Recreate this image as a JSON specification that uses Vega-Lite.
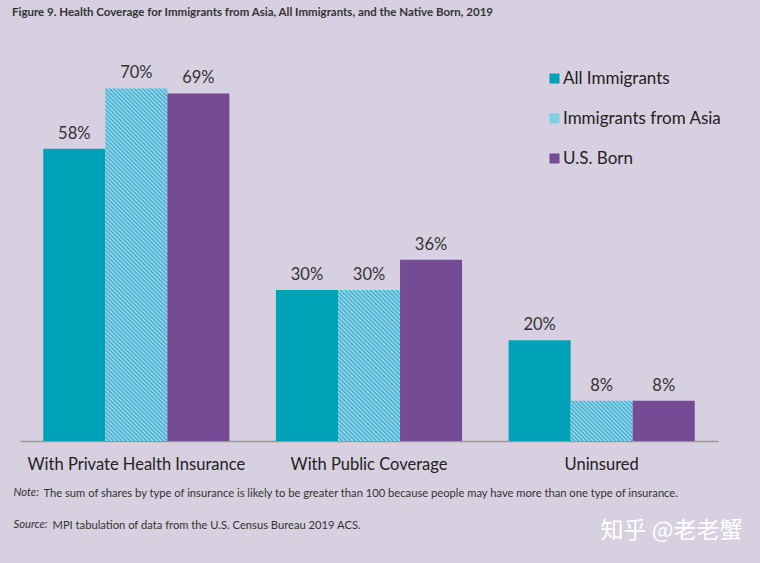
{
"$schema": "https://vega.github.io/schema/vega-lite/v6.json",
"width": 698,
"height": 403,
"autosize": {"type": "none"},
"padding": {"left": 20, "top": 38, "right": 42, "bottom": 122},
"background": "#d7d0e0",
"title": {"text": "Figure 9. Health Coverage for Immigrants from Asia, All Immigrants, and the Native Born, 2019", "anchor": "start", "frame": "group", "dx": -8, "offset": 20, "fontSize": 11.5, "fontWeight": "bold", "font": "Lato", "color": "#333333"},
"data": {"values": [
{"cat": "With Private Health Insurance", "group": "All Immigrants", "value": 58, "label": "58%"},
{"cat": "With Private Health Insurance", "group": "Immigrants from Asia", "value": 70, "label": "70%"},
{"cat": "With Private Health Insurance", "group": "U.S. Born", "value": 69, "label": "69%"},
{"cat": "With Public Coverage", "group": "All Immigrants", "value": 30, "label": "30%"},
{"cat": "With Public Coverage", "group": "Immigrants from Asia", "value": 30, "label": "30%"},
{"cat": "With Public Coverage", "group": "U.S. Born", "value": 36, "label": "36%"},
{"cat": "Uninsured", "group": "All Immigrants", "value": 20, "label": "20%"},
{"cat": "Uninsured", "group": "Immigrants from Asia", "value": 8, "label": "8%"},
{"cat": "Uninsured", "group": "U.S. Born", "value": 8, "label": "8%"}
]},
"layer": [
{
"mark": {"type": "bar"},
"encoding": {
"x": {"field": "cat", "type": "nominal", "sort": ["With Private Health Insurance", "With Public Coverage", "Uninsured"], "scale": {"paddingInner": 0.2, "paddingOuter": 0.1},
"axis": {"orient": "bottom", "title": "The sum of shares by type of insurance is likely to be greater than 100 because people may have more than one type of insurance.", "titleX": 23, "titleY": 46, "titleAlign": "left", "titleBaseline": "top", "titleFontSize": 11.2, "titleFontWeight": "normal", "titleColor": "#333333", "titleFont": "Lato", "labelAngle": 0, "labelFontSize": 16.5, "labelFont": "Lato", "labelColor": "#222222", "labelPadding": 15, "labelLimit": 400, "ticks": false, "domainColor": "#999999", "domainWidth": 1.5}},
"xOffset": {"field": "group", "type": "nominal", "sort": ["All Immigrants", "Immigrants from Asia", "U.S. Born"], "scale": {"paddingInner": 0, "paddingOuter": 0}},
"y": {"field": "value", "type": "quantitative", "scale": {"domain": [0, 80]},
"axis": {"orient": "left", "labels": false, "ticks": false, "domain": false, "grid": false, "title": ["Note:", "Source:"], "titleAngle": 0, "titleX": -7, "titleY": 448, "titleAlign": "left", "titleBaseline": "top", "titleFontSize": 11.2, "titleFontStyle": "italic", "titleFontWeight": "normal", "titleLineHeight": 32, "titleColor": "#333333", "titleFont": "Lato"}},
"fill": {
"field": "group", "type": "nominal", "sort": ["All Immigrants", "Immigrants from Asia", "U.S. Born"],
"scale": {"domain": ["All Immigrants", "Immigrants from Asia", "U.S. Born"], "range": ["#00a2b8", "#7ccfde", "#764b96"]},
"legend": {"orient": "none", "legendX": 526, "legendY": 32, "title": null, "symbolType": "square", "symbolSize": 100, "symbolStrokeWidth": 0, "labelFontSize": 17, "labelFont": "Lato", "labelColor": "#222222", "rowPadding": 22, "labelOffset": 0, "padding": 0},
"condition": [
{"test": "datum.group === 'Immigrants from Asia' && datum.cat === 'With Private Health Insurance'", "value": {"gradient": "linear", "x1": 0, "y1": 1, "x2": 0.2006, "y2": -0.1406, "stops": [
{"offset":0,"color":"#3ac"},{"offset":0.005,"color":"#ade"},{"offset":0.01,"color":"#3ac"},{"offset":0.015,"color":"#ade"},{"offset":0.02,"color":"#3ac"},{"offset":0.025,"color":"#ade"},{"offset":0.03,"color":"#3ac"},{"offset":0.035,"color":"#ade"},{"offset":0.04,"color":"#3ac"},{"offset":0.045,"color":"#ade"},
{"offset":0.05,"color":"#3ac"},{"offset":0.055,"color":"#ade"},{"offset":0.06,"color":"#3ac"},{"offset":0.065,"color":"#ade"},{"offset":0.07,"color":"#3ac"},{"offset":0.075,"color":"#ade"},{"offset":0.08,"color":"#3ac"},{"offset":0.085,"color":"#ade"},{"offset":0.09,"color":"#3ac"},{"offset":0.095,"color":"#ade"},
{"offset":0.1,"color":"#3ac"},{"offset":0.105,"color":"#ade"},{"offset":0.11,"color":"#3ac"},{"offset":0.115,"color":"#ade"},{"offset":0.12,"color":"#3ac"},{"offset":0.125,"color":"#ade"},{"offset":0.13,"color":"#3ac"},{"offset":0.135,"color":"#ade"},{"offset":0.14,"color":"#3ac"},{"offset":0.145,"color":"#ade"},
{"offset":0.15,"color":"#3ac"},{"offset":0.155,"color":"#ade"},{"offset":0.16,"color":"#3ac"},{"offset":0.165,"color":"#ade"},{"offset":0.17,"color":"#3ac"},{"offset":0.175,"color":"#ade"},{"offset":0.18,"color":"#3ac"},{"offset":0.185,"color":"#ade"},{"offset":0.19,"color":"#3ac"},{"offset":0.195,"color":"#ade"},
{"offset":0.2,"color":"#3ac"},{"offset":0.205,"color":"#ade"},{"offset":0.21,"color":"#3ac"},{"offset":0.215,"color":"#ade"},{"offset":0.22,"color":"#3ac"},{"offset":0.225,"color":"#ade"},{"offset":0.23,"color":"#3ac"},{"offset":0.235,"color":"#ade"},{"offset":0.24,"color":"#3ac"},{"offset":0.245,"color":"#ade"},
{"offset":0.25,"color":"#3ac"},{"offset":0.255,"color":"#ade"},{"offset":0.26,"color":"#3ac"},{"offset":0.265,"color":"#ade"},{"offset":0.27,"color":"#3ac"},{"offset":0.275,"color":"#ade"},{"offset":0.28,"color":"#3ac"},{"offset":0.285,"color":"#ade"},{"offset":0.29,"color":"#3ac"},{"offset":0.295,"color":"#ade"},
{"offset":0.3,"color":"#3ac"},{"offset":0.305,"color":"#ade"},{"offset":0.31,"color":"#3ac"},{"offset":0.315,"color":"#ade"},{"offset":0.32,"color":"#3ac"},{"offset":0.325,"color":"#ade"},{"offset":0.33,"color":"#3ac"},{"offset":0.335,"color":"#ade"},{"offset":0.34,"color":"#3ac"},{"offset":0.345,"color":"#ade"},
{"offset":0.35,"color":"#3ac"},{"offset":0.355,"color":"#ade"},{"offset":0.36,"color":"#3ac"},{"offset":0.365,"color":"#ade"},{"offset":0.37,"color":"#3ac"},{"offset":0.375,"color":"#ade"},{"offset":0.38,"color":"#3ac"},{"offset":0.385,"color":"#ade"},{"offset":0.39,"color":"#3ac"},{"offset":0.395,"color":"#ade"},
{"offset":0.4,"color":"#3ac"},{"offset":0.405,"color":"#ade"},{"offset":0.41,"color":"#3ac"},{"offset":0.415,"color":"#ade"},{"offset":0.42,"color":"#3ac"},{"offset":0.425,"color":"#ade"},{"offset":0.43,"color":"#3ac"},{"offset":0.435,"color":"#ade"},{"offset":0.44,"color":"#3ac"},{"offset":0.445,"color":"#ade"},
{"offset":0.45,"color":"#3ac"},{"offset":0.455,"color":"#ade"},{"offset":0.46,"color":"#3ac"},{"offset":0.465,"color":"#ade"},{"offset":0.47,"color":"#3ac"},{"offset":0.475,"color":"#ade"},{"offset":0.48,"color":"#3ac"},{"offset":0.485,"color":"#ade"},{"offset":0.49,"color":"#3ac"},{"offset":0.495,"color":"#ade"},
{"offset":0.5,"color":"#3ac"},{"offset":0.505,"color":"#ade"},{"offset":0.51,"color":"#3ac"},{"offset":0.515,"color":"#ade"},{"offset":0.52,"color":"#3ac"},{"offset":0.525,"color":"#ade"},{"offset":0.53,"color":"#3ac"},{"offset":0.535,"color":"#ade"},{"offset":0.54,"color":"#3ac"},{"offset":0.545,"color":"#ade"},
{"offset":0.55,"color":"#3ac"},{"offset":0.555,"color":"#ade"},{"offset":0.56,"color":"#3ac"},{"offset":0.565,"color":"#ade"},{"offset":0.57,"color":"#3ac"},{"offset":0.575,"color":"#ade"},{"offset":0.58,"color":"#3ac"},{"offset":0.585,"color":"#ade"},{"offset":0.59,"color":"#3ac"},{"offset":0.595,"color":"#ade"},
{"offset":0.6,"color":"#3ac"},{"offset":0.605,"color":"#ade"},{"offset":0.61,"color":"#3ac"},{"offset":0.615,"color":"#ade"},{"offset":0.62,"color":"#3ac"},{"offset":0.625,"color":"#ade"},{"offset":0.63,"color":"#3ac"},{"offset":0.635,"color":"#ade"},{"offset":0.64,"color":"#3ac"},{"offset":0.645,"color":"#ade"},
{"offset":0.65,"color":"#3ac"},{"offset":0.655,"color":"#ade"},{"offset":0.66,"color":"#3ac"},{"offset":0.665,"color":"#ade"},{"offset":0.67,"color":"#3ac"},{"offset":0.675,"color":"#ade"},{"offset":0.68,"color":"#3ac"},{"offset":0.685,"color":"#ade"},{"offset":0.69,"color":"#3ac"},{"offset":0.695,"color":"#ade"},
{"offset":0.7,"color":"#3ac"},{"offset":0.705,"color":"#ade"},{"offset":0.71,"color":"#3ac"},{"offset":0.715,"color":"#ade"},{"offset":0.72,"color":"#3ac"},{"offset":0.725,"color":"#ade"},{"offset":0.73,"color":"#3ac"},{"offset":0.735,"color":"#ade"},{"offset":0.74,"color":"#3ac"},{"offset":0.745,"color":"#ade"},
{"offset":0.75,"color":"#3ac"},{"offset":0.755,"color":"#ade"},{"offset":0.76,"color":"#3ac"},{"offset":0.765,"color":"#ade"},{"offset":0.77,"color":"#3ac"},{"offset":0.775,"color":"#ade"},{"offset":0.78,"color":"#3ac"},{"offset":0.785,"color":"#ade"},{"offset":0.79,"color":"#3ac"},{"offset":0.795,"color":"#ade"},
{"offset":0.8,"color":"#3ac"},{"offset":0.805,"color":"#ade"},{"offset":0.81,"color":"#3ac"},{"offset":0.815,"color":"#ade"},{"offset":0.82,"color":"#3ac"},{"offset":0.825,"color":"#ade"},{"offset":0.83,"color":"#3ac"},{"offset":0.835,"color":"#ade"},{"offset":0.84,"color":"#3ac"},{"offset":0.845,"color":"#ade"},
{"offset":0.85,"color":"#3ac"},{"offset":0.855,"color":"#ade"},{"offset":0.86,"color":"#3ac"},{"offset":0.865,"color":"#ade"},{"offset":0.87,"color":"#3ac"},{"offset":0.875,"color":"#ade"},{"offset":0.88,"color":"#3ac"},{"offset":0.885,"color":"#ade"},{"offset":0.89,"color":"#3ac"},{"offset":0.895,"color":"#ade"},
{"offset":0.9,"color":"#3ac"},{"offset":0.905,"color":"#ade"},{"offset":0.91,"color":"#3ac"},{"offset":0.915,"color":"#ade"},{"offset":0.92,"color":"#3ac"},{"offset":0.925,"color":"#ade"},{"offset":0.93,"color":"#3ac"},{"offset":0.935,"color":"#ade"},{"offset":0.94,"color":"#3ac"},{"offset":0.945,"color":"#ade"},
{"offset":0.95,"color":"#3ac"},{"offset":0.955,"color":"#ade"},{"offset":0.96,"color":"#3ac"},{"offset":0.965,"color":"#ade"},{"offset":0.97,"color":"#3ac"},{"offset":0.975,"color":"#ade"},{"offset":0.98,"color":"#3ac"},{"offset":0.985,"color":"#ade"},{"offset":0.99,"color":"#3ac"},{"offset":0.995,"color":"#ade"},
{"offset":1,"color":"#3ac"}]}},
{"test": "datum.group === 'Immigrants from Asia' && datum.cat === 'With Public Coverage'", "value": {"gradient": "linear", "x1": 0, "y1": 1, "x2": 0.4953, "y2": -0.2071, "stops": [
{"offset":0,"color":"#3ac"},{"offset":0.01,"color":"#ade"},{"offset":0.02,"color":"#3ac"},{"offset":0.03,"color":"#ade"},{"offset":0.04,"color":"#3ac"},{"offset":0.05,"color":"#ade"},{"offset":0.06,"color":"#3ac"},{"offset":0.07,"color":"#ade"},{"offset":0.08,"color":"#3ac"},{"offset":0.09,"color":"#ade"},
{"offset":0.1,"color":"#3ac"},{"offset":0.11,"color":"#ade"},{"offset":0.12,"color":"#3ac"},{"offset":0.13,"color":"#ade"},{"offset":0.14,"color":"#3ac"},{"offset":0.15,"color":"#ade"},{"offset":0.16,"color":"#3ac"},{"offset":0.17,"color":"#ade"},{"offset":0.18,"color":"#3ac"},{"offset":0.19,"color":"#ade"},
{"offset":0.2,"color":"#3ac"},{"offset":0.21,"color":"#ade"},{"offset":0.22,"color":"#3ac"},{"offset":0.23,"color":"#ade"},{"offset":0.24,"color":"#3ac"},{"offset":0.25,"color":"#ade"},{"offset":0.26,"color":"#3ac"},{"offset":0.27,"color":"#ade"},{"offset":0.28,"color":"#3ac"},{"offset":0.29,"color":"#ade"},
{"offset":0.3,"color":"#3ac"},{"offset":0.31,"color":"#ade"},{"offset":0.32,"color":"#3ac"},{"offset":0.33,"color":"#ade"},{"offset":0.34,"color":"#3ac"},{"offset":0.35,"color":"#ade"},{"offset":0.36,"color":"#3ac"},{"offset":0.37,"color":"#ade"},{"offset":0.38,"color":"#3ac"},{"offset":0.39,"color":"#ade"},
{"offset":0.4,"color":"#3ac"},{"offset":0.41,"color":"#ade"},{"offset":0.42,"color":"#3ac"},{"offset":0.43,"color":"#ade"},{"offset":0.44,"color":"#3ac"},{"offset":0.45,"color":"#ade"},{"offset":0.46,"color":"#3ac"},{"offset":0.47,"color":"#ade"},{"offset":0.48,"color":"#3ac"},{"offset":0.49,"color":"#ade"},
{"offset":0.5,"color":"#3ac"},{"offset":0.51,"color":"#ade"},{"offset":0.52,"color":"#3ac"},{"offset":0.53,"color":"#ade"},{"offset":0.54,"color":"#3ac"},{"offset":0.55,"color":"#ade"},{"offset":0.56,"color":"#3ac"},{"offset":0.57,"color":"#ade"},{"offset":0.58,"color":"#3ac"},{"offset":0.59,"color":"#ade"},
{"offset":0.6,"color":"#3ac"},{"offset":0.61,"color":"#ade"},{"offset":0.62,"color":"#3ac"},{"offset":0.63,"color":"#ade"},{"offset":0.64,"color":"#3ac"},{"offset":0.65,"color":"#ade"},{"offset":0.66,"color":"#3ac"},{"offset":0.67,"color":"#ade"},{"offset":0.68,"color":"#3ac"},{"offset":0.69,"color":"#ade"},
{"offset":0.7,"color":"#3ac"},{"offset":0.71,"color":"#ade"},{"offset":0.72,"color":"#3ac"},{"offset":0.73,"color":"#ade"},{"offset":0.74,"color":"#3ac"},{"offset":0.75,"color":"#ade"},{"offset":0.76,"color":"#3ac"},{"offset":0.77,"color":"#ade"},{"offset":0.78,"color":"#3ac"},{"offset":0.79,"color":"#ade"},
{"offset":0.8,"color":"#3ac"},{"offset":0.81,"color":"#ade"},{"offset":0.82,"color":"#3ac"},{"offset":0.83,"color":"#ade"},{"offset":0.84,"color":"#3ac"},{"offset":0.85,"color":"#ade"},{"offset":0.86,"color":"#3ac"},{"offset":0.87,"color":"#ade"},{"offset":0.88,"color":"#3ac"},{"offset":0.89,"color":"#ade"},
{"offset":0.9,"color":"#3ac"},{"offset":0.91,"color":"#ade"},{"offset":0.92,"color":"#3ac"},{"offset":0.93,"color":"#ade"},{"offset":0.94,"color":"#3ac"},{"offset":0.95,"color":"#ade"},{"offset":0.96,"color":"#3ac"},{"offset":0.97,"color":"#ade"},{"offset":0.98,"color":"#3ac"},{"offset":0.99,"color":"#ade"},
{"offset":1,"color":"#3ac"}]}},
{"test": "datum.group === 'Immigrants from Asia' && datum.cat === 'Uninsured'", "value": {"gradient": "linear", "x1": 0, "y1": 1, "x2": 1.16, "y2": 0.246, "stops": [
{"offset":0,"color":"#3ac"},{"offset":0.02,"color":"#ade"},{"offset":0.04,"color":"#3ac"},{"offset":0.06,"color":"#ade"},{"offset":0.08,"color":"#3ac"},{"offset":0.1,"color":"#ade"},{"offset":0.12,"color":"#3ac"},{"offset":0.14,"color":"#ade"},{"offset":0.16,"color":"#3ac"},{"offset":0.18,"color":"#ade"},
{"offset":0.2,"color":"#3ac"},{"offset":0.22,"color":"#ade"},{"offset":0.24,"color":"#3ac"},{"offset":0.26,"color":"#ade"},{"offset":0.28,"color":"#3ac"},{"offset":0.3,"color":"#ade"},{"offset":0.32,"color":"#3ac"},{"offset":0.34,"color":"#ade"},{"offset":0.36,"color":"#3ac"},{"offset":0.38,"color":"#ade"},
{"offset":0.4,"color":"#3ac"},{"offset":0.42,"color":"#ade"},{"offset":0.44,"color":"#3ac"},{"offset":0.46,"color":"#ade"},{"offset":0.48,"color":"#3ac"},{"offset":0.5,"color":"#ade"},{"offset":0.52,"color":"#3ac"},{"offset":0.54,"color":"#ade"},{"offset":0.56,"color":"#3ac"},{"offset":0.58,"color":"#ade"},
{"offset":0.6,"color":"#3ac"},{"offset":0.62,"color":"#ade"},{"offset":0.64,"color":"#3ac"},{"offset":0.66,"color":"#ade"},{"offset":0.68,"color":"#3ac"},{"offset":0.7,"color":"#ade"},{"offset":0.72,"color":"#3ac"},{"offset":0.74,"color":"#ade"},{"offset":0.76,"color":"#3ac"},{"offset":0.78,"color":"#ade"},
{"offset":0.8,"color":"#3ac"},{"offset":0.82,"color":"#ade"},{"offset":0.84,"color":"#3ac"},{"offset":0.86,"color":"#ade"},{"offset":0.88,"color":"#3ac"},{"offset":0.9,"color":"#ade"},{"offset":0.92,"color":"#3ac"},{"offset":0.94,"color":"#ade"},{"offset":0.96,"color":"#3ac"},{"offset":0.98,"color":"#ade"},
{"offset":1,"color":"#3ac"}]}}
]
}
}
},
{
"mark": {"type": "text", "baseline": "bottom", "dy": -7, "fontSize": 16.5, "font": "Lato", "color": "#333333"},
"encoding": {
"x": {"field": "cat", "type": "nominal", "sort": ["With Private Health Insurance", "With Public Coverage", "Uninsured"], "scale": {"paddingInner": 0.2, "paddingOuter": 0.1},
"axis": {"orient": "top", "labels": false, "ticks": false, "domain": false, "title": "知乎 @老老蟹", "titleX": 580, "titleY": 492, "titleAlign": "left", "titleBaseline": "middle", "titleFontSize": 23, "titleFont": "Noto Sans CJK SC", "titleFontWeight": "normal", "titleColor": "#ffffff"}},
"xOffset": {"field": "group", "type": "nominal", "sort": ["All Immigrants", "Immigrants from Asia", "U.S. Born"], "scale": {"paddingInner": 0, "paddingOuter": 0}},
"y": {"field": "value", "type": "quantitative", "scale": {"domain": [0, 80]},
"axis": {"orient": "right", "labels": false, "ticks": false, "domain": false, "grid": false, "title": "MPI tabulation of data from the U.S. Census Bureau 2019 ACS.", "titleAngle": 0, "titleX": -666, "titleY": 481, "titleAlign": "left", "titleBaseline": "top", "titleFontSize": 11.2, "titleFontWeight": "normal", "titleColor": "#333333", "titleFont": "Lato"}},
"text": {"field": "label", "type": "nominal"}
}
}
],
"resolve": {"axis": {"x": "independent", "y": "independent"}},
"config": {"view": {"stroke": null}, "axis": {"grid": false}, "font": "Lato"}
}
